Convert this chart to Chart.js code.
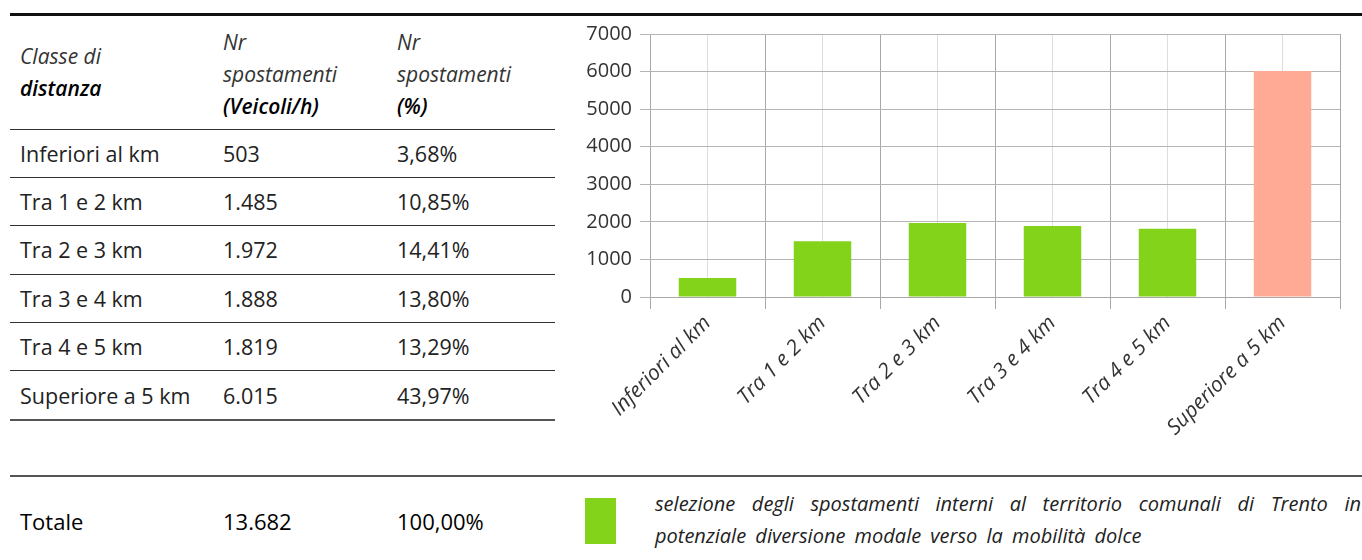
<!DOCTYPE html>
<html>
<head>
<meta charset="utf-8">
<script src="https://cdn.jsdelivr.net/npm/chart.js@4/dist/chart.umd.min.js"></script>
<style>
  body { margin: 0; background: #fff; width: 1362px; height: 560px; overflow: hidden; position: relative;
         font-family: "Open Sans", "Noto Sans", sans-serif; color: #222; }
  .rule { position: absolute; }
  table { position: absolute; left: 10px; top: 16px; width: 545px; border-collapse: collapse; font-size: 21.5px; }
  td { padding: 0 0 0 10px; height: 47.4px; border-bottom: 1.5px solid #333; vertical-align: middle; }
  th { font-weight: normal; font-style: italic; text-align: left; padding: 0 0 0 10px; height: 102.5px;
       border-bottom: 1.5px solid #333; line-height: 32px; font-size: 21px; color: #333; }
  th b { font-weight: 600; color: #000; }
  tr:last-child td { border-bottom: 2px solid #555; }
  #chartBox { position: absolute; left: 570px; top: 20px; width: 792px; height: 440px; }
  .tot { position: absolute; top: 506px; font-size: 22px; color: #000; }
  #swatch { position: absolute; left: 585px; top: 498px; width: 31px; height: 46px; background: #83d31b; }
  #note { position: absolute; left: 655px; top: 488px; width: 706px; font-size: 20px; font-style: italic;
          line-height: 32px; word-spacing: 4px; text-align: justify; text-align-last: left; color: #222; }
</style>
</head>
<body>
<div class="rule" style="left:10px;top:13px;width:1352px;height:3px;background:#111"></div>

<table id="tbl">
  <tr>
    <th style="width:193px;vertical-align:middle">Classe di<br><b>distanza</b></th>
    <th style="width:164px;vertical-align:top;padding-top:10px">Nr<br>spostamenti<br><b>(Veicoli/h)</b></th>
    <th style="vertical-align:top;padding-top:10px">Nr<br>spostamenti<br><b>(%)</b></th>
  </tr>
</table>

<div id="chartBox"><canvas id="barChart"></canvas></div>

<div class="rule" style="left:10px;top:475px;width:1352px;height:2px;background:#555"></div>
<div class="tot" style="left:20px">Totale</div>
<div class="tot" style="left:223px">13.682</div>
<div class="tot" style="left:397px">100,00%</div>
<div id="swatch"></div>
<div id="note">selezione degli spostamenti interni al territorio comunali di Trento in potenziale diversione modale verso la mobilità dolce</div>

<script>
const categories = ['Inferiori al km', 'Tra 1 e 2 km', 'Tra 2 e 3 km', 'Tra 3 e 4 km', 'Tra 4 e 5 km', 'Superiore a 5 km'];
const trips = [503, 1485, 1972, 1888, 1819, 6015];
const tripsText = ['503', '1.485', '1.972', '1.888', '1.819', '6.015'];
const percentText = ['3,68%', '10,85%', '14,41%', '13,80%', '13,29%', '43,97%'];
const barColors = ['#83d31b', '#83d31b', '#83d31b', '#83d31b', '#83d31b', '#ffaa94'];

// table rows
const tbl = document.getElementById('tbl');
categories.forEach((c, i) => {
  const tr = document.createElement('tr');
  [c, tripsText[i], percentText[i]].forEach(t => {
    const td = document.createElement('td');
    td.textContent = t;
    tr.appendChild(td);
  });
  tbl.appendChild(tr);
});

new Chart(document.getElementById('barChart').getContext('2d'), {
  type: 'bar',
  data: {
    labels: categories,
    datasets: [{
      data: trips,
      backgroundColor: barColors,
      categoryPercentage: 1,
      barPercentage: 0.5,
      xAxisID: 'x',
      yAxisID: 'y'
    }]
  },
  options: {
    responsive: true,
    maintainAspectRatio: false,
    animation: false,
    layout: { padding: { top: 14, right: 22 } },
    plugins: { legend: { display: false }, tooltip: { enabled: false } },
    scales: {
      x: {
        position: 'bottom',
        offset: true,
        grid: { offset: true, color: '#a8a8a8', lineWidth: 1, tickLength: 12 },
        border: { color: '#a8a8a8' },
        ticks: {
          maxRotation: 45, minRotation: 45, padding: 2,
          color: '#333', font: { family: 'Open Sans', size: 21, style: 'italic' }
        },
        afterFit: s => { s.height = 163; s.paddingLeft = 0; s.paddingRight = 0; }
      },
      x2: {
        type: 'category',
        position: 'top',
        labels: categories,
        offset: true,
        grid: { offset: false, color: '#dedede', drawTicks: false },
        border: { display: false },
        ticks: { display: false },
        afterFit: s => { s.height = 0; s.paddingLeft = 0; s.paddingRight = 0; }
      },
      y: {
        min: 0, max: 7000,
        ticks: {
          stepSize: 1000, padding: 8, color: '#333', font: { family: 'Open Sans', size: 20 },
          callback: v => String(v)
        },
        grid: { color: '#b4b4b4', tickLength: 10 },
        border: { display: false },
        afterFit: s => { s.width = 80; s.paddingTop = 0; s.paddingBottom = 0; }
      }
    }
  }
});
</script>
</body>
</html>
